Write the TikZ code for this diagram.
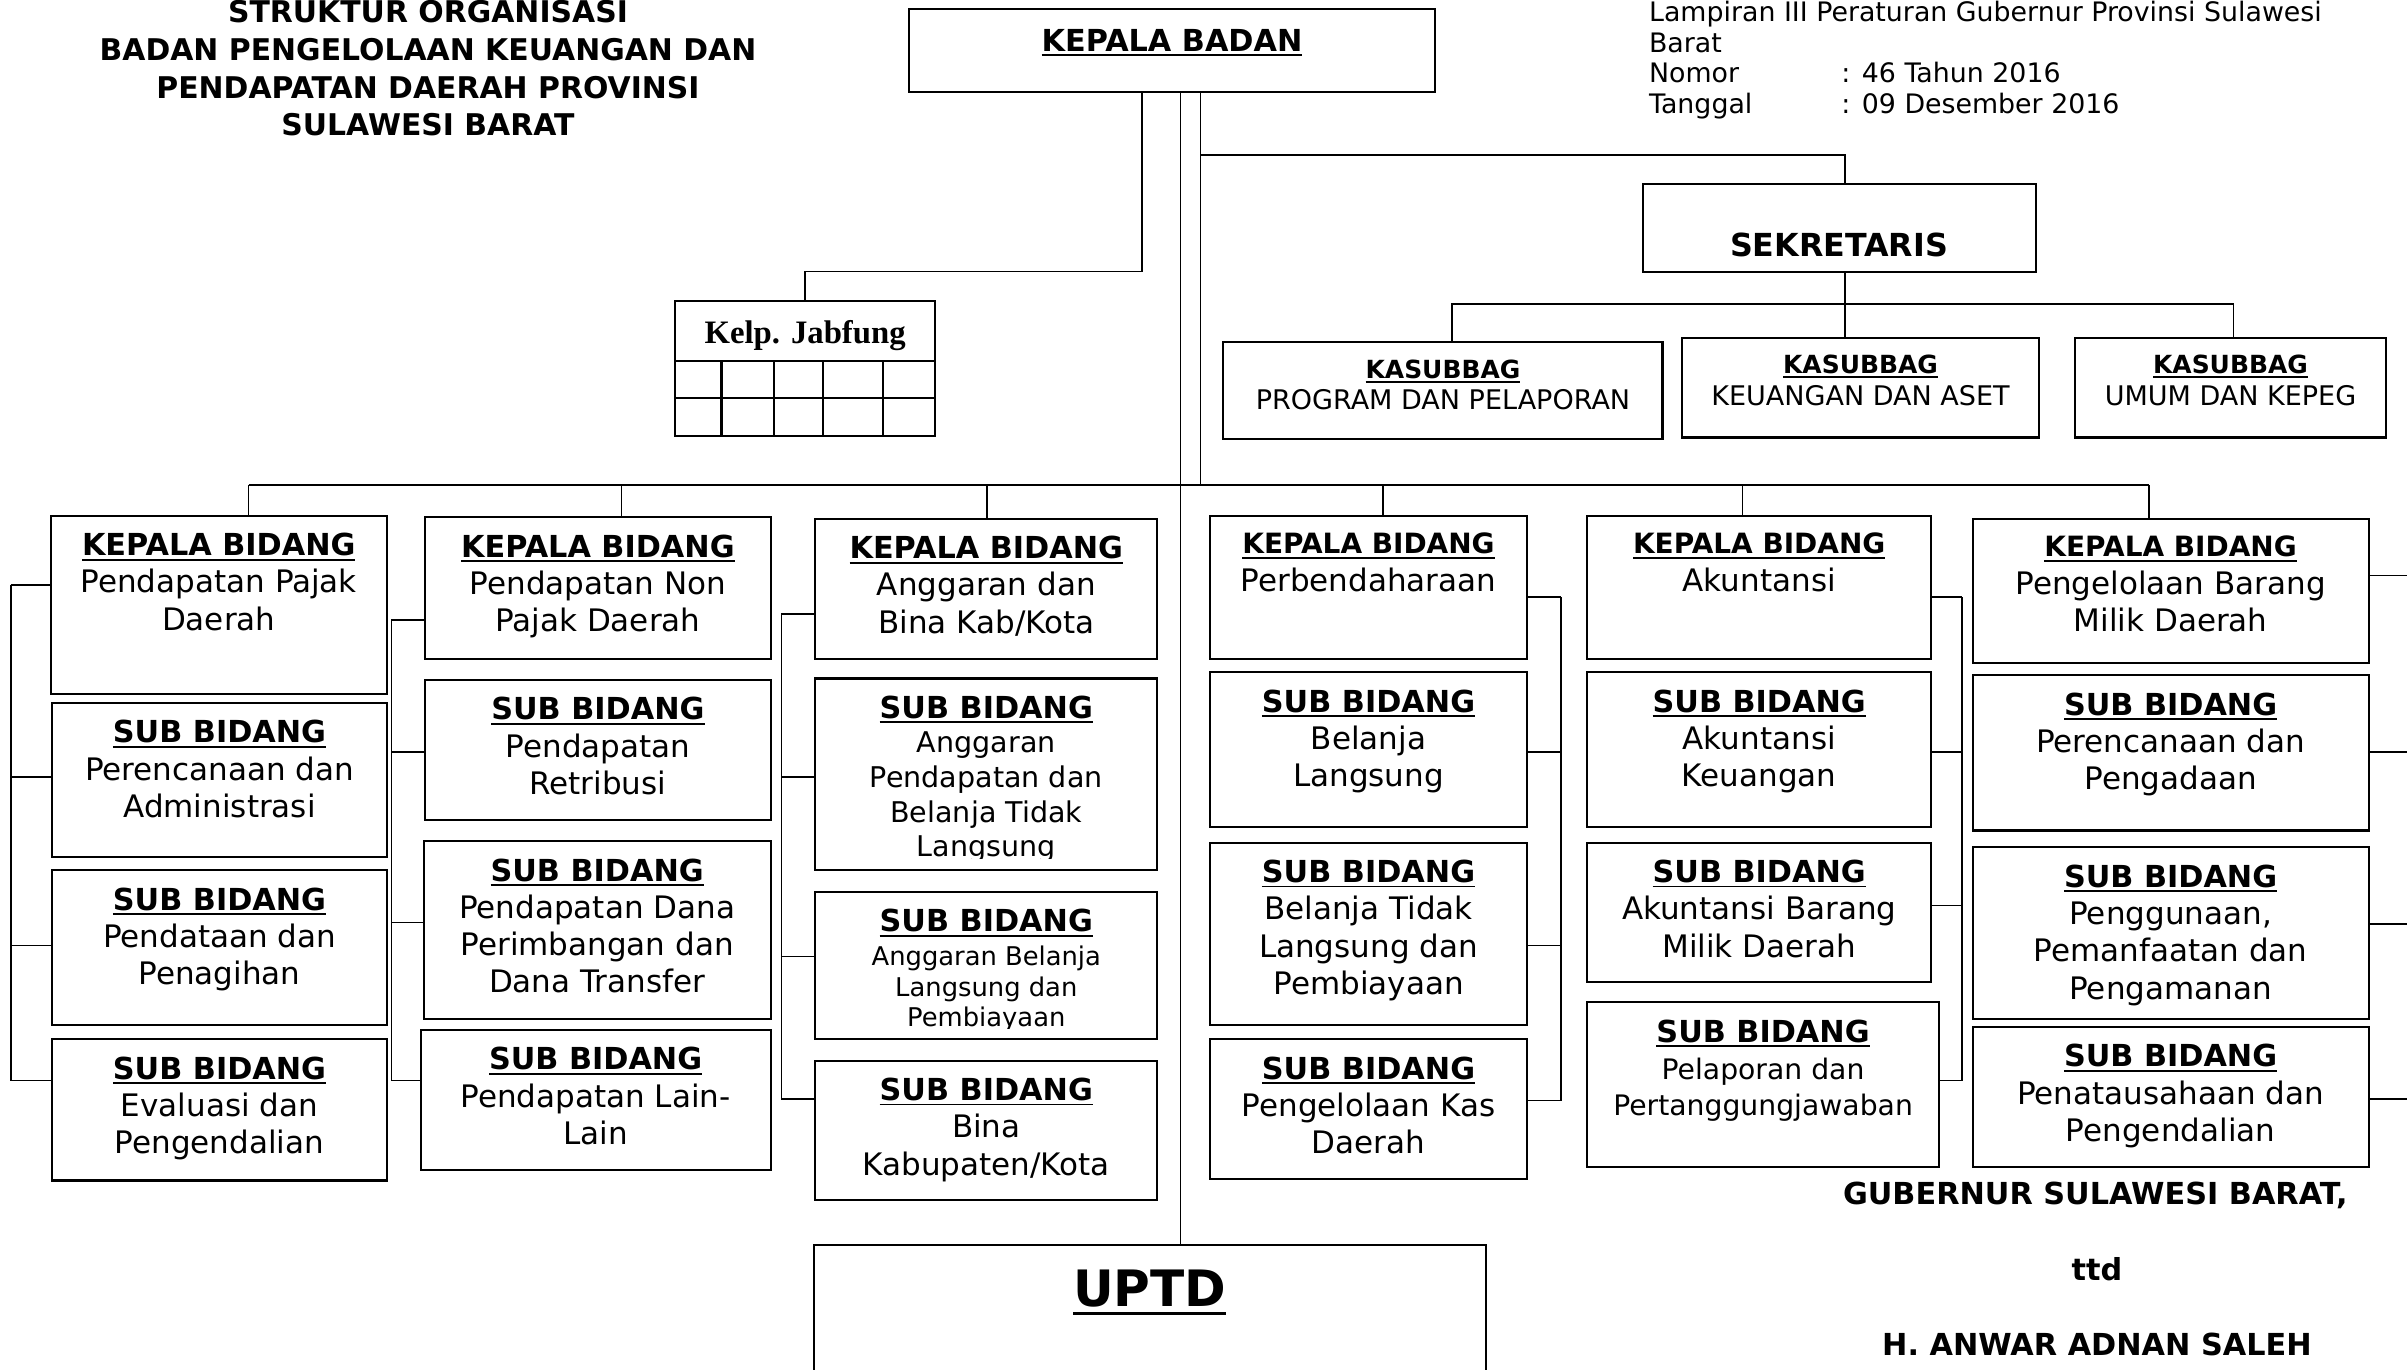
\documentclass[tikz,border=0pt]{standalone}
\usepackage{fontspec}
\setmainfont{DejaVu Sans}
\newfontfamily\jabfont{Liberation Serif}
\usetikzlibrary{fit}

% underline sitting just under the baseline
\newcommand{\ulin}[1]{\vtop{\hbox{#1}\kern1.2pt\hrule height 0.95pt}}
\newcommand{\fatul}[1]{\vtop{\hbox{#1}\kern2.2pt\hrule height 1.6pt}}
\newcommand{\ttl}[2][14.8pt]{{\normalfont\bfseries\fontsize{#1}{#1}\selectfont\ulin{#2}}}

% box from corner to corner, its text hung from the top edge
\newcommand{\orgbox}[7][]{%
  \node[unitbox, fit={(#3,#4) (#5,#6)}] (#2) {};
  \node[unittext, #1] (#2t) at ([yshift=-8.8pt]#2.north) {#7};}

\begin{document}
\begin{tikzpicture}[
    x=0.75pt, y=-0.75pt,
    unitbox/.style={draw, line width=1pt, inner sep=0pt},
    unittext/.style={anchor=north, align=center, inner sep=0pt,
      font=\fontsize{15.15pt}{18.2pt}\selectfont},
    kstext/.style={font=\fontsize{13.2pt}{15.45pt}\selectfont},
    smalla/.style={font=\fontsize{13.95pt}{16.9pt}\selectfont},
    smallb/.style={font=\fontsize{12.6pt}{15pt}\selectfont},
    smallc/.style={font=\fontsize{13.8pt}{18pt}\selectfont},
    conn/.style={line width=0.75pt},
    sign/.style={anchor=base, inner sep=0pt,
      font=\bfseries\fontsize{14.8pt}{16pt}\selectfont}
  ]
\useasboundingbox (0,0) rectangle (1568,892);
\clip (0,0) rectangle (1568,892);

% heading
\node[anchor=north, align=center, inner sep=0pt,
  font=\bfseries\fontsize{14.6pt}{18.45pt}\selectfont] (judul) at (278.8,0)
  {STRUKTUR ORGANISASI\\BADAN PENGELOLAAN KEUANGAN DAN\\PENDAPATAN DAERAH PROVINSI\\SULAWESI BARAT};
\node[anchor=north west, align=left, inner sep=0pt,
  font=\fontsize{13.1pt}{15pt}\selectfont] (lampiran) at (1074,0.5)
  {Lampiran III Peraturan Gubernur Provinsi Sulawesi\\Barat\\\makebox[94pt][l]{Nomor}: 46 Tahun 2016\\\makebox[94pt][l]{Tanggal}: 09 Desember 2016};

% top of the chart
\orgbox[yshift=-1.5pt]{kb}{592}{6}{935}{60}{\ttl{KEPALA BADAN}}

\node[unitbox, fit={(440,196) (609,284)}] (jab) {};
\node[anchor=base, inner sep=0pt,
  font=\jabfont\bfseries\fontsize{16pt}{18pt}\selectfont] (jabt) at (jab.north |- 0,223.7) {Kelp. Jabfung};
\draw[line width=1pt] (jab.west |- 0,235) -- (jab.east |- 0,235);
\draw[line width=1pt] (jab.west |- 0,259) -- (jab.east |- 0,259);
\foreach \x in {470,504,536,575}
  \draw[line width=1pt] (\x,235) -- (jab.south -| \x,0);

\node[unitbox, fit={(1070,120) (1326,177)}] (sek) {};
\node[anchor=base, inner sep=0pt,
  font=\bfseries\fontsize{15.5pt}{17pt}\selectfont] (sekt) at (sek.north |- 0,167) {SEKRETARIS};

\orgbox[kstext]{ks1}{797}{223}{1083}{286}{\ttl[12.2pt]{KASUBBAG}\\PROGRAM DAN PELAPORAN}
\orgbox[kstext]{ks2}{1096}{220}{1328}{285}{\ttl[12.2pt]{KASUBBAG}\\KEUANGAN DAN ASET}
\orgbox[kstext]{ks3}{1352}{220}{1554}{285}{\ttl[12.2pt]{KASUBBAG}\\UMUM DAN KEPEG}

% bidang pendapatan pajak
\orgbox{kb1}{33}{336}{252}{452}{\ttl{KEPALA BIDANG}\\Pendapatan Pajak\\Daerah}
\orgbox{sb11}{34}{458}{252}{558}{\ttl{SUB BIDANG}\\Perencanaan dan\\Administrasi}
\orgbox{sb12}{34}{567}{252}{668}{\ttl{SUB BIDANG}\\Pendataan dan\\Penagihan}
\orgbox{sb13}{34}{677}{252}{769}{\ttl{SUB BIDANG}\\Evaluasi dan\\Pengendalian}

% bidang pendapatan non pajak
\orgbox{kb2}{277}{337}{502}{429}{\ttl{KEPALA BIDANG}\\Pendapatan Non\\Pajak Daerah}
\orgbox{sb21}{277}{443}{502}{534}{\ttl{SUB BIDANG}\\Pendapatan\\Retribusi}
\orgbox{sb22}{276}{548}{502}{664}{\ttl{SUB BIDANG}\\Pendapatan Dana\\Perimbangan dan\\Dana Transfer}
\orgbox{sb23}{274}{671}{502}{762}{\ttl{SUB BIDANG}\\Pendapatan Lain-\\Lain}

% bidang anggaran
\orgbox{kb3}{531}{338}{754}{429}{\ttl{KEPALA BIDANG}\\Anggaran dan\\Bina Kab/Kota}
\node[unitbox, fit={(531,442) (754,567)}] (sb31) {};
\begin{scope}
  \clip (531,442) rectangle (754,559);
  \node[unittext, smalla] (sb31t) at ([yshift=-8.8pt]sb31.north)
    {\ttl{SUB BIDANG}\\Anggaran\\Pendapatan dan\\Belanja Tidak\\Langsung};
\end{scope}
\node[unitbox, fit={(531,581) (754,677)}] (sb32) {};
\begin{scope}
  \clip (531,581) rectangle (754,670);
  \node[unittext, smallb] (sb32t) at ([yshift=-8.8pt]sb32.north)
    {\ttl{SUB BIDANG}\\[1.5pt]Anggaran Belanja\\Langsung dan\\Pembiayaan};
\end{scope}
\orgbox{sb33}{531}{691}{754}{782}{\ttl{SUB BIDANG}\\Bina\\Kabupaten/Kota}

% bidang perbendaharaan
\orgbox{kb4}{788}{336}{995}{429}{\ttl[13.65pt]{KEPALA BIDANG}\\Perbendaharaan}
\orgbox{sb41}{788}{438}{995}{539}{\ttl{SUB BIDANG}\\Belanja\\Langsung}
\orgbox{sb42}{788}{549}{995}{668}{\ttl{SUB BIDANG}\\Belanja Tidak\\Langsung dan\\Pembiayaan}
\orgbox{sb43}{788}{677}{995}{768}{\ttl{SUB BIDANG}\\Pengelolaan Kas\\Daerah}

% bidang akuntansi
\orgbox{kb5}{1034}{336}{1258}{429}{\ttl[13.65pt]{KEPALA BIDANG}\\Akuntansi}
\orgbox{sb51}{1034}{438}{1258}{539}{\ttl{SUB BIDANG}\\Akuntansi\\Keuangan}
\orgbox{sb52}{1034}{549}{1258}{640}{\ttl{SUB BIDANG}\\Akuntansi Barang\\Milik Daerah}
\orgbox[smallc]{sb53}{1034}{653}{1263}{760}{\ttl{SUB BIDANG}\\Pelaporan dan\\Pertanggungjawaban}

% bidang barang milik daerah
\orgbox{kb6}{1285}{338}{1543}{432}{\ttl[13.65pt]{KEPALA BIDANG}\\Pengelolaan Barang\\Milik Daerah}
\orgbox{sb61}{1285}{440}{1543}{541}{\ttl{SUB BIDANG}\\Perencanaan dan\\Pengadaan}
\orgbox{sb62}{1285}{552}{1543}{664}{\ttl{SUB BIDANG}\\Penggunaan,\\Pemanfaatan dan\\Pengamanan}
\orgbox{sb63}{1285}{669}{1543}{760}{\ttl{SUB BIDANG}\\Penatausahaan dan\\Pengendalian}

% uptd and signature
\node[unitbox, fit={(530,811) (968,905)}] (uptd) {};
\node[anchor=base, inner sep=0pt, font=\bfseries\fontsize{24.5pt}{28pt}\selectfont] (uptdt)
  at (uptd.north |- 0,851) {\fatul{UPTD}};
\node[sign] (gub) at (1365,784.5) {GUBERNUR SULAWESI BARAT,};
\node[sign] (ttd) at (1366,834.2) {ttd};
\node[sign] (nama) at (1366,882.7) {H. ANWAR ADNAN SALEH};

% lines from the head
\draw[conn] (kb.south -| 744,0) |- (jab.north |- 0,177) -- (jab.north);
\draw[conn] (kb.south -| 769,0) -- (uptd.north -| 769,0);
\draw[conn] (kb.south -| 782,0) -- (782,316);
\draw[conn] (782,101) -| (sek.north -| 1202,0);
\draw[conn] (sek.south -| 1202,0) -- (ks2.north -| 1202,0);
\draw[conn] (ks1.north -| 946,0) |- (1455,198) -- (ks3.north -| 1455,0);

% bar over the bidang
\draw[conn] (162,316) -- (1400,316);
\foreach \n/\x in {kb1/162, kb2/405, kb3/643, kb4/901, kb5/1135, kb6/1400}
  \draw[conn] (\x,316) -- (\n.north -| \x,0);

% side brackets
\draw[conn] (7,381) -- (7,704);
\foreach \n/\y in {kb1/381, sb11/506, sb12/616, sb13/704}
  \draw[conn] (7,\y) -- (\n.west |- 0,\y);
\draw[conn] (255,404) -- (255,704);
\foreach \n/\y in {kb2/404, sb21/490, sb22/601, sb23/704}
  \draw[conn] (255,\y) -- (\n.west |- 0,\y);
\draw[conn] (509,400) -- (509,716);
\foreach \n/\y in {kb3/400, sb31/506, sb32/623, sb33/716}
  \draw[conn] (509,\y) -- (\n.west |- 0,\y);
\draw[conn] (1017,389) -- (1017,717);
\foreach \n/\y in {kb4/389, sb41/490, sb42/616, sb43/717}
  \draw[conn] (1017,\y) -- (\n.east |- 0,\y);
\draw[conn] (1278,389) -- (1278,704);
\foreach \n/\y in {kb5/389, sb51/490, sb52/590, sb53/704}
  \draw[conn] (1278,\y) -- (\n.east |- 0,\y);
\foreach \n/\y in {kb6/375, sb61/490, sb62/602, sb63/716}
  \draw[conn] (\n.east |- 0,\y) -- (1580,\y);
\end{tikzpicture}
\end{document}
